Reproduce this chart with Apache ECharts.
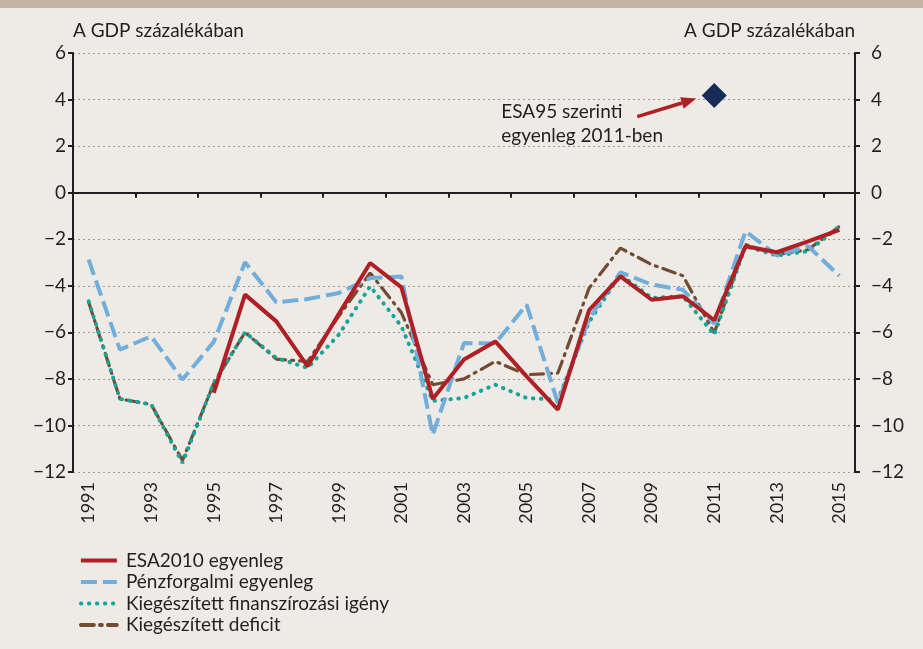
<!DOCTYPE html>
<html><head><meta charset="utf-8">
<script src="https://cdn.jsdelivr.net/npm/echarts@6/dist/echarts.min.js"></script>
<style>html,body{margin:0;padding:0;background:#EEEAE6;}#c{width:923px;height:649px;}</style>
</head><body><div id="c"></div>
<script>
var years = ['1991','1992','1993','1994','1995','1996','1997','1998','1999','2000','2001','2002','2003','2004','2005','2006','2007','2008','2009','2010','2011','2012','2013','2014','2015'];
var esa2010 = [null,null,null,null,-8.6,-4.38,-5.53,-7.46,-5.2,-3.02,-4.07,-8.86,-7.17,-6.39,-7.89,-9.32,-5.05,-3.6,-4.6,-4.45,-5.48,-2.3,-2.56,-2.09,-1.6];
var penzforgalmi = [-2.88,-6.74,-6.17,-8.03,-6.41,-2.99,-4.71,-4.57,-4.31,-3.67,-3.6,-10.4,-6.46,-6.48,-4.81,-9.03,-5.42,-3.42,-3.95,-4.17,-5.63,-1.66,-2.7,-2.3,-3.57];
var finIgeny = [-4.67,-8.86,-9.1,-11.61,-8.18,-6.0,-7.1,-7.53,-6.1,-4.02,-5.74,-8.95,-8.82,-8.25,-8.82,-8.9,-5.55,-3.52,-4.52,-4.45,-6.1,-2.3,-2.7,-2.52,-1.45];
var kiegDeficit = [-4.7,-8.86,-9.1,-11.5,-8.2,-6.0,-7.15,-7.25,-5.3,-3.45,-5.16,-8.25,-8.0,-7.25,-7.82,-7.75,-4.1,-2.38,-3.09,-3.57,-6.03,-2.23,-2.66,-2.45,-1.45];
var esa95 = [['2011', 4.17]];
var seriesNames = ['ESA2010 egyenleg','Pénzforgalmi egyenleg','Kiegészített finanszírozási igény','Kiegészített deficit'];
var axisTitle = 'A GDP százalékában';
var annotation = ['ESA95 szerinti', 'egyenleg 2011-ben'];

var FONT = 'Lato';
var TXT = '#231F20';
function fmt(v){ return String(v).replace('-', '\u2212'); }

var chart = echarts.init(document.getElementById('c'), null, {renderer:'canvas'});
var yCommon = {
  type:'value', min:-12, max:6, interval:2,
  axisLine:{show:true, onZero:false, lineStyle:{color:TXT, width:2}},
  axisTick:{show:true, length:5, lineStyle:{color:TXT, width:2}},
  name: axisTitle, nameLocation:'end', nameGap:13
};
var option = {
  backgroundColor:'#EEEAE6',
  animation:false,
  textStyle:{fontFamily:FONT},
  grid:{left:73, right:68, top:53, bottom:177, containLabel:false},
  xAxis:[{
    type:'category', data:years, position:'bottom', boundaryGap:true,
    axisLine:{show:false, onZero:false}, axisTick:{show:false},
    axisLabel:{interval:1, rotate:90, color:TXT, fontFamily:FONT, fontSize:18, margin:10},
    splitLine:{show:false}
  },{
    type:'category', data:years, position:'bottom', boundaryGap:true,
    axisLine:{show:true, onZero:true, onZeroAxisIndex:0, lineStyle:{color:TXT, width:2}},
    axisTick:{show:true, interval:1, length:5, lineStyle:{color:TXT, width:2}},
    axisLabel:{show:false}, splitLine:{show:false}
  }],
  yAxis:[
    Object.assign({}, yCommon, {position:'left',
      axisLabel:{color:TXT, fontFamily:FONT, fontSize:19, margin:7, formatter:fmt},
      nameTextStyle:{color:TXT, fontFamily:FONT, fontSize:19, align:'left'},
      splitLine:{show:true, lineStyle:{color:'#9A9A9A', width:1, type:[2,3]}}}),
    Object.assign({}, yCommon, {position:'right',
      axisLabel:{color:TXT, fontFamily:FONT, fontSize:19, margin:16, formatter:fmt},
      nameTextStyle:{color:TXT, fontFamily:FONT, fontSize:19, align:'right'},
      splitLine:{show:false}})
  ],
  legend:{
    orient:'vertical', left:74, top:546, itemWidth:36, itemHeight:14, itemGap:2.5,
    data:seriesNames,
    itemStyle:{opacity:0, color:'transparent', borderWidth:0},
    lineStyle:{width:3.8},
    textStyle:{color:TXT, fontFamily:FONT, fontSize:19, padding:[0,0,0,4]}
  },
  series:[
    {name:seriesNames[3], type:'line', data:kiegDeficit, symbol:'none', z:3,
      lineStyle:{color:'#734B33', width:3.2, type:[13,6,2,6], cap:'round'}, itemStyle:{color:'#734B33'}},
    {name:seriesNames[2], type:'line', data:finIgeny, symbol:'none', z:4,
      lineStyle:{color:'#14A59A', width:4, type:[0.5,7.5], cap:'round'}, itemStyle:{color:'#14A59A'}},
    {name:seriesNames[1], type:'line', data:penzforgalmi, symbol:'none', z:5,
      lineStyle:{color:'#72AEDC', width:4, type:[16,6]}, itemStyle:{color:'#72AEDC'}},
    {name:seriesNames[0], type:'line', data:esa2010, symbol:'none', z:6, connectNulls:false,
      lineStyle:{color:'#B01F24', width:4}, itemStyle:{color:'#B01F24'}},
    {name:'ESA95', type:'scatter', data:esa95, symbol:'diamond', symbolSize:[25,25], z:7,
      itemStyle:{color:'#172B58', opacity:1}}
  ]
};
chart.setOption(option);

var p = chart.convertToPixel({seriesIndex:4}, esa95[0]);
var ex = p[0]-18, ey = p[1]+3, sx = p[0]-77, sy = p[1]+21;
var ang = Math.atan2(ey-sy, ex-sx);
var hl = 15, hw = 6;
var bx = ex - hl*Math.cos(ang), by = ey - hl*Math.sin(ang);
var nx = -Math.sin(ang), ny = Math.cos(ang);
chart.setOption({graphic:[
  {type:'rect', left:0, top:0, shape:{x:0,y:0,width:923,height:8}, style:{fill:'#C3B4A6'}, silent:true},
  {type:'line', shape:{x1:sx, y1:sy, x2:bx, y2:by}, style:{stroke:'#B01F24', lineWidth:3.5}, z:10},
  {type:'polygon', shape:{points:[[ex,ey],[bx+nx*hw,by+ny*hw],[bx-nx*hw,by-ny*hw]]}, style:{fill:'#B01F24'}, z:10},
  {type:'text', x:p[0]-213, y:p[1]+4, style:{text:annotation.join('\n'), fill:TXT, font:'19px '+FONT, lineHeight:24}, z:10}
]});
</script></body></html>
